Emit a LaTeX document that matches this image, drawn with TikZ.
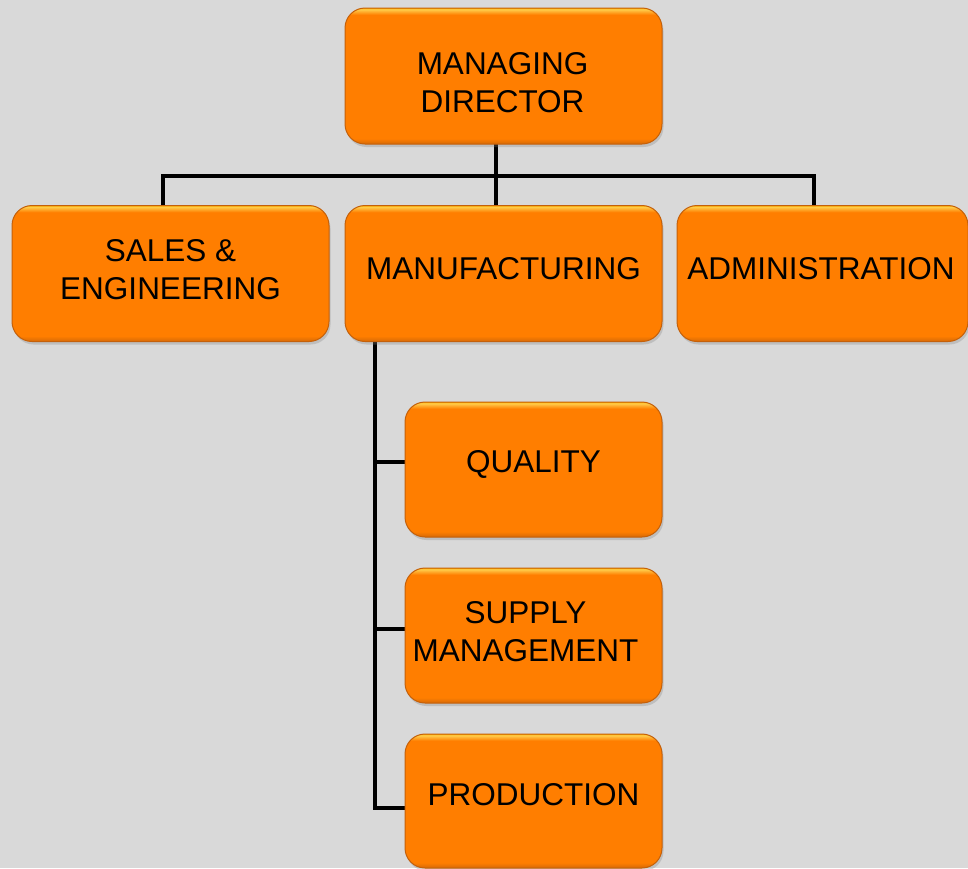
\documentclass[tikz,border=0pt]{standalone}
\usepackage{fontspec}
\setmainfont{Liberation Sans}
\usetikzlibrary{shadows}
\definecolor{bgc}{RGB}{217,217,217}
\definecolor{boxfill}{RGB}{255,126,0}
\definecolor{boxedge}{RGB}{196,96,10}
\pgfdeclarelayer{bglayer}
\pgfdeclarelayer{lines}
\pgfsetlayers{bglayer,lines,main}
\pgfdeclareverticalshading{orgshade}{100bp}{
  color(0bp)=(boxedge); color(25bp)=(boxedge!70!boxfill); color(27bp)=(boxfill);
  color(72.5bp)=(boxfill); color(74.5bp)=(boxfill!55!yellow!70!white); color(75bp)=(boxfill!60!yellow); color(100bp)=(boxfill)}
\tikzset{
  orgbox/.style={rectangle, rounded corners=20pt, shading=orgshade, draw=boxedge, line width=1pt,
    minimum width=317pt, minimum height=136pt, inner sep=0pt,
    drop shadow={opacity=0.3, shadow xshift=1.5pt, shadow yshift=-3pt}},
  subbox/.style={orgbox, minimum width=257pt, minimum height=135pt},
  lbl/.style={align=center, inner sep=0pt, font=\fontsize{31.5}{38}\selectfont},
  conn/.style={line width=4pt, black, line join=miter, line cap=rect}
}
\begin{document}
\begin{tikzpicture}[x=1pt,y=-1pt]
\begin{pgfonlayer}{bglayer}
\fill[bgc] (0,0) rectangle (968,868);
\end{pgfonlayer}
\useasboundingbox (0,0) rectangle (968,868);
\clip (0,0) rectangle (968,868);
\coordinate (xm) at (496,0);
\coordinate (xs) at (163,0);
\coordinate (xa) at (814,0);
\coordinate (xv) at (375,0);
\coordinate (bus) at (496,176);
\coordinate (yq) at (0,462);
\coordinate (ysu) at (0,629);
\coordinate (ypr) at (0,808);
% boxes
\node[orgbox] (md) at (503.5,76) {};
\node[orgbox] (sales) at (170.5,273.5) {};
\node[orgbox] (manuf) at (503.5,273.5) {};
\node[orgbox, minimum width=291pt] (admin) at (822.5,273.5) {};
\node[subbox] (qual) at (533.5,469.5) {};
\node[subbox] (supply) at (533.5,635.5) {};
\node[subbox, minimum height=134pt] (prod) at (533.5,801) {};
% texts
\node[lbl] (mdt) at (502.5,82.5) {MANAGING\\DIRECTOR};
\node[lbl] (salest) at (170.5,270) {SALES \&\\ENGINEERING};
\node[lbl] (manuft) at (503.5,268.5) {MANUFACTURING};
\node[lbl] (admint) at (821,268.5) {ADMINISTRATION};
\node[lbl] (qualt) at (533.5,464.5) {QUALITY};
\node[lbl] (supplyt) at (525.5,632) {SUPPLY\\MANAGEMENT};
\node[lbl] (prodt) at (533.5,795) {PRODUCTION};
% connectors
\begin{pgfonlayer}{lines}
\draw[conn] (md.south -| xm) -- (manuf.north -| xm);
\draw[conn] (sales.north -| xs) |- (bus) -| (admin.north -| xa);
\draw[conn] (manuf.south -| xv) |- (prod.west |- ypr);
\draw[conn] (qual.west |- yq) -- (xv |- yq);
\draw[conn] (supply.west |- ysu) -- (xv |- ysu);
\end{pgfonlayer}
\end{tikzpicture}
\end{document}
